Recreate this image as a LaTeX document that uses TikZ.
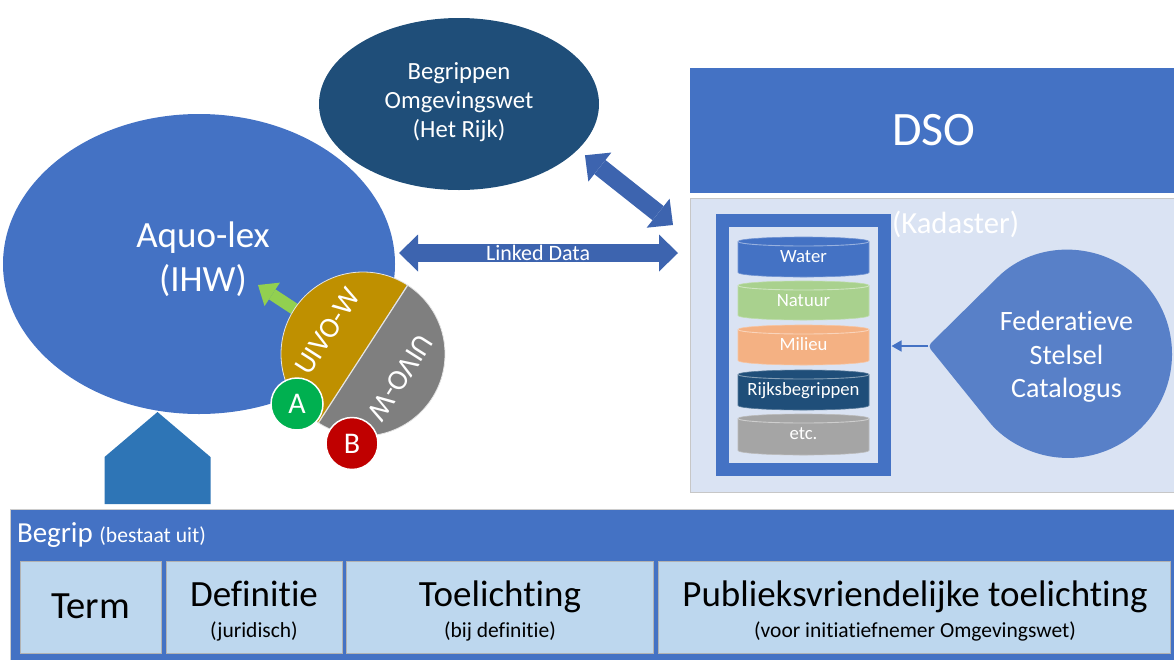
\documentclass[tikz,border=0pt]{standalone}
\usepackage{fontspec}
\setmainfont{Carlito}[Ligatures=NoCommon]
\usetikzlibrary{arrows.meta,shapes.geometric}
\definecolor{mblue}{HTML}{4472C4}
\definecolor{dblue}{HTML}{1F4E79}
\definecolor{arrblue}{HTML}{3D64AF}
\definecolor{panelc}{HTML}{DAE3F3}
\definecolor{fscc}{HTML}{5880C8}
\definecolor{housec}{HTML}{2E75B6}
\definecolor{boxc}{HTML}{BDD7EE}
\definecolor{goldc}{HTML}{BF9000}
\definecolor{grayc}{HTML}{7F7F7F}
\definecolor{greenc}{HTML}{00B050}
\definecolor{redc}{HTML}{C00000}
\definecolor{lgreen}{HTML}{92D050}
\definecolor{natc}{HTML}{A9D18E}
\definecolor{milc}{HTML}{F4B183}
\definecolor{etcc}{HTML}{A5A5A5}
\newcommand\fsz[2]{\fontsize{#1}{#2}\selectfont}
\newcommand\dbcyl[5]{%
  \fill[#2, draw=#2!75!white, line width=0.6pt] (738,#3) arc[start angle=180,end angle=360,x radius=65.5,y radius=4.5] -- (869,#4) arc[start angle=0,end angle=180,x radius=65.5,y radius=4.5] -- cycle;
  \draw[#2!55!white, line width=0.9pt] (738,#3) arc[start angle=180,end angle=0,x radius=65.5,y radius=4.5];
  \node[anchor=base, text=white, font=\fsz{18.7}{22}] (#1) at (803.5,{#3+21}) {#5};}
\begin{document}
\begin{tikzpicture}[x=1pt,y=-1pt,
  every node/.style={outer sep=0pt},
  wt/.style={text=white},
  blk/.style={draw=arrblue, line width=18pt,
    arrows={Triangle[width=37pt,length=19pt,line width=0pt]-Triangle[width=37pt,length=19pt,line width=0pt]}},
  subbox/.style={fill=boxc, draw=black!30, line width=0.8pt, inner sep=0pt},
  maintxt/.style={anchor=base, font=\fsz{37}{44}},
  subtxt/.style={anchor=base, font=\fsz{21.5}{26}},
  disc/.style={circle, draw=white, line width=1.5pt, minimum size=52pt, inner sep=0pt, text=white, font=\fsz{30}{36}},
]
\useasboundingbox (0,0) rectangle (1174,659);

% Begrippen Omgevingswet
\node[ellipse, fill=dblue, minimum width=280pt, minimum height=172pt, inner sep=0pt] (begr) at (459,104) {};
\node[anchor=base, wt, font=\fsz{24.7}{29}] (begr1) at (459,79) {Begrippen};
\node[anchor=base, wt, font=\fsz{24.7}{29}] (begr2) at (459,108) {Omgevingswet};
\node[anchor=base, wt, font=\fsz{24.7}{29}] (begr3) at (459,137) {(Het Rijk)};

% Aquo-lex
\node[ellipse, fill=mblue, minimum width=392pt, minimum height=300pt, inner sep=0pt] (aquo) at (199,264) {};
\node[anchor=base, wt, font=\fsz{37}{44}] (aquo1) at (203,247) {Aquo-lex};
\node[anchor=base, wt, font=\fsz{37}{44}] (aquo2) at (203,291) {(IHW)};

% DSO and Kadaster panel
\node[rectangle, fill=mblue, minimum width=490pt, minimum height=125pt, inner sep=0pt] (dso) at (935,130.5) {};
\node[anchor=base, wt, font=\fsz{48}{56}] (dsot) at (934,145) {DSO};
\node[rectangle, fill=panelc, draw=black!22, line width=0.8pt, minimum width=490pt, minimum height=294pt, inner sep=0pt] (panel) at (935,345) {};
\node[anchor=base west, wt, font=\fsz{30.7}{36}, inner sep=0pt] (kad) at (892,233) {(Kadaster)};

% frame with databases
\node[rectangle, draw=mblue, fill=panelc, line width=13pt, minimum width=162pt, minimum height=249pt, inner sep=0pt] (frame) at (803.5,345) {};
\coordinate (fe) at ([xshift=7pt]frame.east);
\dbcyl{water}{mblue}{241.5}{272.5}{Water}
\dbcyl{natuur}{natc}{285.5}{315.5}{Natuur}
\dbcyl{milieu}{milc}{329.5}{360.5}{Milieu}
\dbcyl{rijks}{dblue}{374.5}{405.5}{Rijksbegrippen}
\dbcyl{etc}{etcc}{418.5}{450.5}{etc.}

% Federatieve Stelsel Catalogus
\coordinate (fsctip) at (928,346);
\fill[fscc, rounded corners=4pt] (fsctip) -- (995,279.9) arc[start angle=-134.6, end angle=141.2, radius=104] -- cycle;
\node[anchor=base, wt, font=\fsz{28}{33}] (fsc1) at (1066.5,330.5) {Federatieve};
\node[anchor=base, wt, font=\fsz{28}{33}] (fsc2) at (1066.5,364.5) {Stelsel};
\node[anchor=base, wt, font=\fsz{28}{33}] (fsc3) at (1066.5,397.5) {Catalogus};
\draw[draw=mblue, fill=mblue, line width=1.5pt, arrows={-Triangle[width=11pt,length=10pt]}] (fsctip) -- (fsctip -| fe);

% block arrows
\coordinate (ldl) at ([yshift=11pt]aquo.east);
\draw[blk, shorten <=4pt, shorten >=12pt] (ldl) -- (ldl -| panel.west)
  node[pos=0.485, wt, font=\fsz{22}{26}] (ldtxt) {Linked Data};
\draw[blk] ([shift={(9pt,-4pt)}]begr.-22) -- ([shift={(-17pt,-27pt)}]panel.north west);

% UIVO-W disc
\node[circle, minimum size=164pt, inner sep=0pt] (uivo) at (363,354) {};
\coordinate (gtip) at (258,285);
\draw[draw=lgreen, line width=12pt, arrows={-Triangle[width=28pt,length=17pt,line width=0pt]}] (uivo) -- (gtip);
\fill[goldc] (uivo.center) ++(-57.5:82) arc[start angle=-57.5, end angle=-237.5, radius=82] -- cycle;
\fill[grayc] (uivo.center) ++(-237.5:82) arc[start angle=-237.5, end angle=-417.5, radius=82] -- cycle;
\draw[white!80!gray, line width=1.2pt] (uivo.57.5) -- (uivo.237.5);
\draw[white!80!gray, line width=0.8pt] (uivo.center) circle[radius=82];
\node[rotate=57.5, wt, font=\fsz{29}{34}] (uivo1) at ([shift={(147.5:42pt)}]uivo.center) {UIVO-W};
\node[rotate=237.5, wt, font=\fsz{29}{34}] (uivo2) at ([shift={(-32.5:44pt)}]uivo.center) {UIVO-W};
\node[disc, fill=greenc] (a) at (297,404) {A};
\node[disc, fill=redc] (b) at (352,443.5) {B};

% house
\fill[housec] (104.5,504) -- (104.5,457) -- (157.5,412) -- (210.5,457) -- (210.5,504) -- cycle;

% Begrip band
\node[rectangle, fill=mblue, draw=black!20, line width=0.8pt, minimum width=1175pt, minimum height=160pt, inner sep=0pt, anchor=north west] (band) at (10.5,509.5) {};
\node[anchor=base west, wt, inner sep=0pt, font=\fsz{29}{34}] (begrip) at (17,542) {Begrip {\fsz{21.6}{26}(bestaat uit)}};

\node[subbox, minimum width=141pt, minimum height=92pt] (term) at (90.5,607) {};
\node[subbox, minimum width=176pt, minimum height=92pt] (def) at (254,607) {};
\node[subbox, minimum width=307pt, minimum height=92pt] (toel) at (499.5,607) {};
\node[subbox, minimum width=512pt, minimum height=92pt] (pub) at (914,607) {};

\node[maintxt, font=\fsz{38.5}{44}] (termt) at (90.5,618.5) {Term};
\node[maintxt] (deft) at (254,606) {Definitie};
\node[subtxt] (defs) at (254,637) {(juridisch)};
\node[maintxt] (toelt) at (500,606) {Toelichting};
\node[subtxt] (toels) at (500,637) {(bij definitie)};
\node[maintxt] (pubt) at (915,606) {Publieksvriendelijke toelichting};
\node[subtxt] (pubs) at (915,637) {(voor initiatiefnemer Omgevingswet)};
\end{tikzpicture}
\end{document}
